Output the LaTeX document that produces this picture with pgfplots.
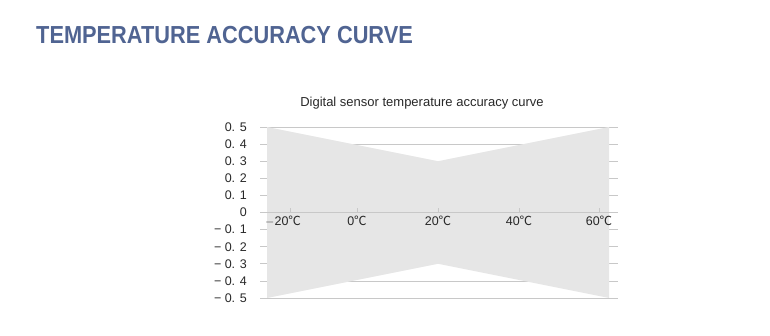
\documentclass[border=0pt]{standalone}
\usepackage{fontspec}
\usepackage{graphicx}
\setmainfont{Liberation Sans}
\newfontfamily\cjk{Noto Sans CJK SC}
\usepackage{pgfplots}
\pgfplotsset{compat=1.18}
\definecolor{titlec}{RGB}{80,100,146}
\definecolor{fillc}{RGB}{230,230,230}
\definecolor{gridc}{RGB}{200,200,200}
\definecolor{textc}{RGB}{40,40,40}
\newcommand{\degc}{{\cjk ℃}}
\begin{document}
\begin{tikzpicture}[x=1pt,y=1pt]
\useasboundingbox (0,0) rectangle (770,335);
\node[anchor=base west, inner sep=0pt, text=titlec, font=\fontsize{22}{24}\selectfont\bfseries] at (36,291) {\scalebox{0.99}[1.12]{TEMPERATURE ACCURACY CURVE}};
\begin{axis}[
  at={(260pt,37pt)}, anchor=south west,
  scale only axis, width=358pt, height=171pt,
  xmin=-21.64, xmax=62.1, ymin=-0.5, ymax=0.5,
  axis on top,
  axis x line=middle, axis y line=left,
  x axis line style={-, draw=gridc, line width=0.8pt},
  y axis line style={draw=none},
  xtick={-14.6,1.05,20,38.95,57.66},
  xticklabels={$-$20\degc\hspace*{14pt},0\degc,20\degc,40\degc,60\degc},
  xtick align=inside,
  xtick style={draw=gridc, line width=0.6pt},
  major tick length=4pt,
  xticklabel style={font=\fontsize{12.5}{12.5}\selectfont, text=textc, inner sep=0pt, anchor=north, yshift=-3pt},
  ytick={-0.5,-0.4,-0.3,-0.2,-0.1,0,0.1,0.2,0.3,0.4,0.5},
  yticklabels={− 0. 5,− 0. 4,− 0. 3,− 0. 2,− 0. 1,0,0. 1,0. 2,0. 3,0. 4,0. 5},
  ytick style={draw=none},
  yticklabel style={font=\fontsize{12.5}{12.5}\selectfont, text=textc, inner sep=0pt, anchor=east, xshift=-11pt},
  title={Digital sensor temperature accuracy curve},
  title style={at={(0.4525,1)}, anchor=base, yshift=14pt, inner sep=0pt, font=\fontsize{13}{13}\selectfont, text=textc},
]
\addplot[gridc, line width=0.8pt, forget plot] coordinates {(-21.64,0.5) (62.1,0.5)};
\addplot[gridc, line width=0.8pt, forget plot] coordinates {(-21.64,0.4) (62.1,0.4)};
\addplot[gridc, line width=0.8pt, forget plot] coordinates {(-21.64,0.3) (62.1,0.3)};
\addplot[gridc, line width=0.8pt, forget plot] coordinates {(-21.64,0.2) (62.1,0.2)};
\addplot[gridc, line width=0.8pt, forget plot] coordinates {(-21.64,0.1) (62.1,0.1)};
\addplot[gridc, line width=0.8pt, forget plot] coordinates {(-21.64,-0.1) (62.1,-0.1)};
\addplot[gridc, line width=0.8pt, forget plot] coordinates {(-21.64,-0.2) (62.1,-0.2)};
\addplot[gridc, line width=0.8pt, forget plot] coordinates {(-21.64,-0.3) (62.1,-0.3)};
\addplot[gridc, line width=0.8pt, forget plot] coordinates {(-21.64,-0.4) (62.1,-0.4)};
\addplot[gridc, line width=0.8pt, forget plot] coordinates {(-21.64,-0.5) (62.1,-0.5)};
\addplot[fill=fillc, draw=none] coordinates {
  (-20,0.5) (0,0.4) (20,0.3) (40,0.4) (60,0.5)
  (60,-0.5) (40,-0.4) (20,-0.3) (0,-0.4) (-20,-0.5)
} -- cycle;
\end{axis}
\end{tikzpicture}
\end{document}
